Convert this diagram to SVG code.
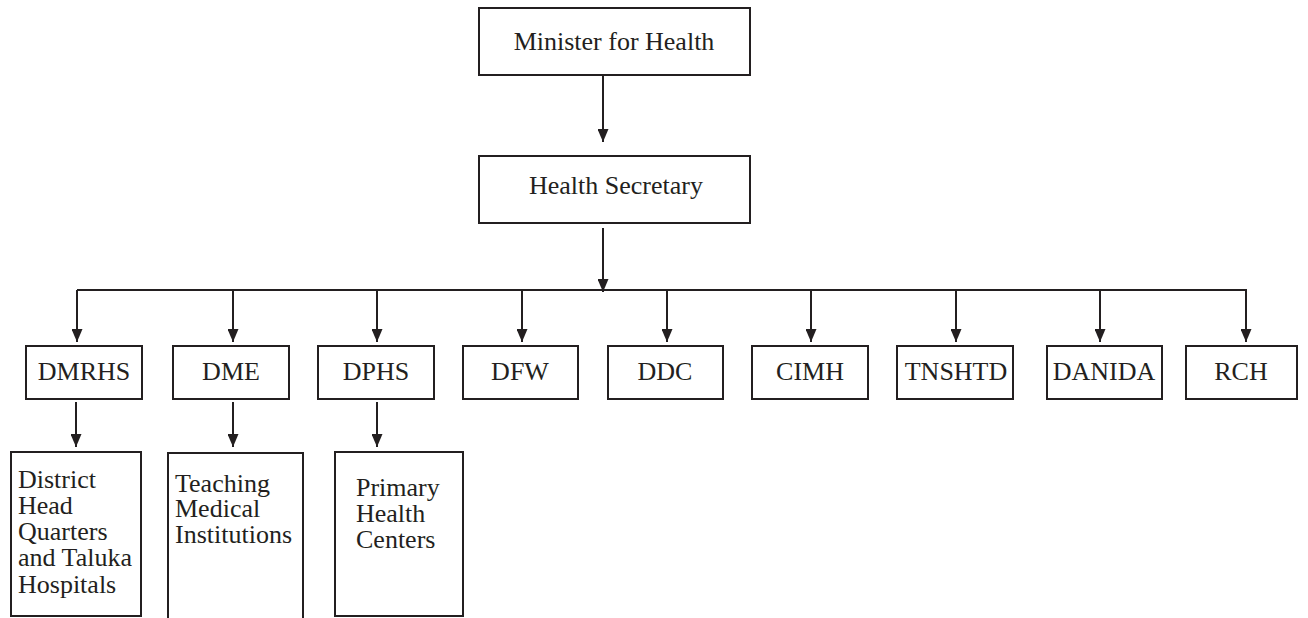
<svg xmlns="http://www.w3.org/2000/svg" width="1308" height="618" viewBox="0 0 1308 618">
<style>
.box{fill:#fff;stroke:#231f20;stroke-width:2}
.t{font-family:"Liberation Serif","Times New Roman",serif;font-size:26px;fill:#231f20}
.c{text-anchor:middle}
.ln{fill:none;stroke:#231f20;stroke-width:2}
</style>
<defs>
<marker id="ah" markerWidth="13" markerHeight="11" refX="13" refY="5.5" orient="auto" markerUnits="userSpaceOnUse" viewBox="0 0 13 11">
<path d="M0,0 L13,5.5 L0,11 Z" fill="#231f20"/>
</marker>
</defs>
<g id="connectors">
<line class="ln" x1="603" y1="75" x2="603" y2="142" marker-end="url(#ah)"/>
<line class="ln" x1="603" y1="228" x2="603" y2="292" marker-end="url(#ah)"/>
<line class="ln" x1="77" y1="290" x2="1247" y2="290"/>
<line class="ln" x1="77" y1="290" x2="77" y2="342" marker-end="url(#ah)"/>
<line class="ln" x1="233" y1="290" x2="233" y2="342" marker-end="url(#ah)"/>
<line class="ln" x1="377" y1="290" x2="377" y2="342" marker-end="url(#ah)"/>
<line class="ln" x1="522" y1="290" x2="522" y2="342" marker-end="url(#ah)"/>
<line class="ln" x1="667" y1="290" x2="667" y2="342" marker-end="url(#ah)"/>
<line class="ln" x1="811" y1="290" x2="811" y2="342" marker-end="url(#ah)"/>
<line class="ln" x1="956" y1="290" x2="956" y2="342" marker-end="url(#ah)"/>
<line class="ln" x1="1100" y1="290" x2="1100" y2="342" marker-end="url(#ah)"/>
<line class="ln" x1="1246" y1="290" x2="1246" y2="342" marker-end="url(#ah)"/>
<line class="ln" x1="76" y1="402" x2="76" y2="447" marker-end="url(#ah)"/>
<line class="ln" x1="233" y1="402" x2="233" y2="447" marker-end="url(#ah)"/>
<line class="ln" x1="377" y1="402" x2="377" y2="447" marker-end="url(#ah)"/>
</g>
<g id="minister"><rect class="box" x="479" y="8" width="271" height="67"/><text class="t c" x="614" y="50">Minister for Health</text></g>
<g id="secretary"><rect class="box" x="479" y="156" width="271" height="67"/><text class="t c" x="616" y="194">Health Secretary</text></g>
<g id="dmrhs"><rect class="box" x="26" y="346" width="116" height="53"/><text class="t c" x="84" y="380">DMRHS</text></g>
<g id="dme"><rect class="box" x="173" y="346" width="116" height="53"/><text class="t c" x="231" y="380">DME</text></g>
<g id="dphs"><rect class="box" x="318" y="346" width="116" height="53"/><text class="t c" x="376" y="380">DPHS</text></g>
<g id="dfw"><rect class="box" x="463" y="346" width="115" height="53"/><text class="t c" x="520" y="380">DFW</text></g>
<g id="ddc"><rect class="box" x="608" y="346" width="115" height="53"/><text class="t c" x="665" y="380">DDC</text></g>
<g id="cimh"><rect class="box" x="752" y="346" width="116" height="53"/><text class="t c" x="810" y="380">CIMH</text></g>
<g id="tnshtd"><rect class="box" x="897" y="346" width="116" height="53"/><text class="t c" x="956" y="380">TNSHTD</text></g>
<g id="danida"><rect class="box" x="1047" y="346" width="115" height="53"/><text class="t c" x="1104" y="380">DANIDA</text></g>
<g id="rch"><rect class="box" x="1186" y="346" width="111" height="53"/><text class="t c" x="1241" y="380">RCH</text></g>
<g id="district"><rect class="box" x="11" y="452" width="130" height="164"/>
<text class="t" x="18" y="488">District</text>
<text class="t" x="18" y="514">Head</text>
<text class="t" x="18" y="540">Quarters</text>
<text class="t" x="18" y="566">and Taluka</text>
<text class="t" x="18" y="593">Hospitals</text></g>
<g id="teaching"><rect class="box" x="168" y="453" width="135" height="170"/>
<text class="t" x="175" y="492">Teaching</text>
<text class="t" x="175" y="517">Medical</text>
<text class="t" x="175" y="543">Institutions</text></g>
<g id="primary"><rect class="box" x="335" y="452" width="128" height="164"/>
<text class="t" x="356" y="496">Primary</text>
<text class="t" x="356" y="522">Health</text>
<text class="t" x="356" y="548">Centers</text></g>
</svg>
